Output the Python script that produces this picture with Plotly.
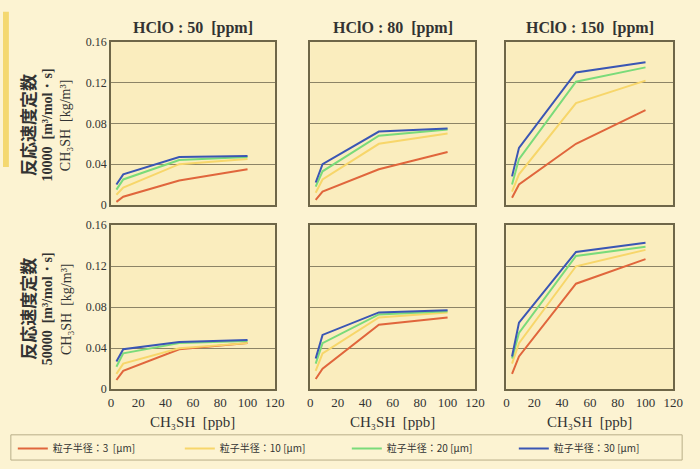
import plotly.graph_objects as go

x_ppb = [4, 9, 50, 100]
series_names = ["粒子半径：3  [μm]", "粒子半径：10 [μm]", "粒子半径：20 [μm]", "粒子半径：30 [μm]"]
colors = ["#E0663C", "#F7D66A", "#7ADB7A", "#3A56B4"]
panel_titles = ["HClO : 50  [ppm]", "HClO : 80  [ppm]", "HClO : 150  [ppm]"]
row_labels = ["10000", "50000"]

# values[row][col][series]
values = [
    [
        [[0.003, 0.008, 0.024, 0.035], [0.010, 0.017, 0.040, 0.045],
         [0.015, 0.025, 0.044, 0.047], [0.020, 0.030, 0.047, 0.048]],
        [[0.005, 0.013, 0.035, 0.052], [0.012, 0.025, 0.060, 0.070],
         [0.018, 0.033, 0.068, 0.074], [0.022, 0.040, 0.072, 0.075]],
        [[0.007, 0.020, 0.060, 0.093], [0.013, 0.030, 0.100, 0.122],
         [0.020, 0.045, 0.121, 0.135], [0.028, 0.056, 0.130, 0.140]],
    ],
    [
        [[0.009, 0.018, 0.039, 0.045], [0.015, 0.025, 0.040, 0.045],
         [0.022, 0.035, 0.045, 0.047], [0.027, 0.039, 0.046, 0.048]],
        [[0.010, 0.020, 0.063, 0.070], [0.018, 0.035, 0.070, 0.075],
         [0.025, 0.045, 0.073, 0.076], [0.030, 0.053, 0.075, 0.077]],
        [[0.015, 0.032, 0.103, 0.127], [0.025, 0.045, 0.120, 0.136],
         [0.030, 0.055, 0.130, 0.139], [0.032, 0.065, 0.134, 0.143]],
    ],
]
y_ticks = [0, 0.04, 0.08, 0.12, 0.16]
y_ticktext = ["0", "0.04", "0.08", "0.12", "0.16"]
x_ticks = [0, 20, 40, 60, 80, 100, 120]

W, H = 700, 469
col_px = [(110, 277), (313, 481), (513, 683)]
row_px = [(36, 204), (225, 394)]

fig = go.Figure()
serif = "Liberation Serif, DejaVu Serif, serif"
grid = "#8C8466"
frame = "#6E6648"

for r in range(2):
    for c in range(3):
        idx = r * 3 + c + 1
        xa = "x" if idx == 1 else f"x{idx}"
        ya = "y" if idx == 1 else f"y{idx}"
        for s in range(4):
            fig.add_trace(go.Scatter(
                x=x_ppb, y=values[r][c][s], mode="lines",
                line=dict(color=colors[s], width=2),
                name=series_names[s], showlegend=(idx == 1),
                xaxis=xa, yaxis=ya, hoverinfo="skip"))
        x0, x1 = col_px[c]
        y0, y1 = row_px[r]
        xk = "xaxis" if idx == 1 else f"xaxis{idx}"
        yk = "yaxis" if idx == 1 else f"yaxis{idx}"
        fig.layout[xk] = dict(
            domain=[x0 / W, x1 / W], range=[0, 120], anchor=ya,
            tickvals=x_ticks, showticklabels=(r == 1), showgrid=False,
            zeroline=False, showline=True, mirror=True, linecolor=frame, linewidth=1.5,
            ticks="", tickfont=dict(family=serif, size=13, color="#333"))
        fig.layout[yk] = dict(
            domain=[1 - y1 / H, 1 - y0 / H], range=[0, 0.16], anchor=xa,
            tickvals=y_ticks, ticktext=y_ticktext, showticklabels=(c == 0),
            showgrid=True, gridcolor=grid, gridwidth=1, zeroline=False,
            showline=True, mirror=True, linecolor=frame, linewidth=1.5, ticks="",
            tickfont=dict(family=serif, size=12, color="#333"))

annotations = []
for c in range(3):
    x0, x1 = col_px[c]
    annotations.append(dict(
        text=f"<b>{panel_titles[c]}</b>", x=(x0 + x1) / 2 / W, y=1 - 22 / H,
        xref="paper", yref="paper", showarrow=False, xanchor="center", yanchor="middle",
        font=dict(family=serif, size=16, color="#333")))
    annotations.append(dict(
        text="CH₃SH  [ppb]", x=(x0 + x1) / 2 / W, y=1 - 428 / H,
        xref="paper", yref="paper", showarrow=False, xanchor="center", yanchor="middle",
        font=dict(family=serif, size=15, color="#333")))
for r in range(2):
    y0, y1 = row_px[r]
    yc = 1 - ((y0 + y1) / 2 + 2) / H
    lines = [("<b>反応速度定数</b>", 25, 17, "Noto Sans CJK JP"),
             (f"<b>{row_labels[r]}  [m³/mol・s]</b>", 45, 14, serif),
             ("CH₃SH  [kg/m³]", 64, 14, serif)]
    for txt, xp, fs, fam in lines:
        annotations.append(dict(
            text=txt, x=xp / W, y=yc, xref="paper", yref="paper", showarrow=False,
            textangle=-90, xanchor="center", yanchor="middle",
            font=dict(family=fam, size=fs, color="#333")))
fig.update_layout(annotations=annotations)

fig.add_shape(type="rect", xref="paper", yref="paper",
              x0=8 / W, x1=692 / W, y0=1 - 467 / H, y1=1 - 441 / H,
              line=dict(color="#B8AE88", width=1), fillcolor="rgba(0,0,0,0)")
fig.add_shape(type="rect", xref="paper", yref="paper",
              x0=0, x1=6 / W, y0=1 - 165 / H, y1=1 - 5 / H,
              line=dict(width=0), fillcolor="#F4D870", layer="below")

fig.update_layout(
    width=W, height=H, margin=dict(l=0, r=0, t=0, b=0),
    paper_bgcolor="#FCF3D2", plot_bgcolor="#FAEDBE",
    legend=dict(orientation="h", x=10 / W, y=1 - 455 / H, xanchor="left", yanchor="middle",
                entrywidth=122, entrywidthmode="pixels", bgcolor="rgba(0,0,0,0)",
                font=dict(family="Noto Sans CJK JP", size=10, color="#333")),
)

fig.write_html("out.html", config={"displayModeBar": False},
               post_script="document.body.style.margin='0';")
